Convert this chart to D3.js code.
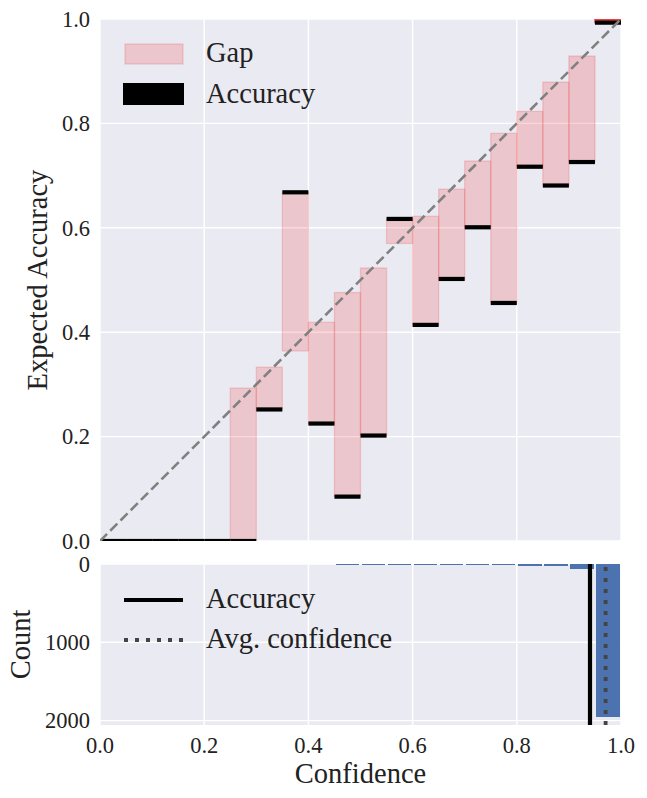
<!DOCTYPE html>
<html lang="en">
<head>
<meta charset="UTF-8">
<title>Reliability diagram</title>
<script src="https://d3js.org/d3.v7.min.js"></script>
<style>
    body, html { margin: 0; padding: 0; background: #fff; overflow: hidden; }
    svg text { font-family: "Liberation Serif", "Times New Roman", Times, "DejaVu Serif", serif; fill: #222; }
    .tick-label { font-size: 22.5px; }
    .axis-label { font-size: 28.5px; }
    .legend-label { font-size: 28.5px; }
</style>
</head>
<body>
<svg id="chart" width="647" height="798"></svg>
<script>
    // bin lower edges (bin width 0.05)
    const binStarts = [0.00, 0.05, 0.10, 0.15, 0.20, 0.25, 0.30, 0.35, 0.40, 0.45,
                       0.50, 0.55, 0.60, 0.65, 0.70, 0.75, 0.80, 0.85, 0.90, 0.95];
    const binWidth = 0.05;
    const accuracy = [0, 0, 0, 0, 0, 0, 0.252, 0.668, 0.225, 0.085,
                      0.202, 0.617, 0.414, 0.502, 0.601, 0.456, 0.717, 0.681, 0.726, 0.993];
    const confidence = [0, 0, 0, 0, 0, 0.293, 0.333, 0.364, 0.419, 0.476,
                        0.523, 0.570, 0.622, 0.674, 0.728, 0.781, 0.823, 0.879, 0.929, 0.9995];
    const counts = [0, 0, 0, 0, 0, 1, 4, 3, 4, 11,
                    10, 12, 12, 11, 13, 11, 20, 22, 62, 1958];
    const avgAccuracy = 0.9405;
    const avgConfidence = 0.9705;
    const xTicks = [0, 0.2, 0.4, 0.6, 0.8, 1.0];
    const accTicks = [0, 0.2, 0.4, 0.6, 0.8, 1.0];
    const countTicks = [0, 1000, 2000];

    const svg = d3.select("#chart");
    const bg = "#EAEAF2";
    const serif = '"Liberation Serif", "Times New Roman", Times, "DejaVu Serif", serif';
    const left = 100, right = 621;

    const x = d3.scaleLinear().domain([0, 1]).range([left, right]);
    const y = d3.scaleLinear().domain([0, 1]).range([541, 19]);
    const yc = d3.scaleLinear().domain([0, d3.max(counts) * 1.05]).range([564, 725]);

    const maxCount = d3.max(counts);
    const bins = binStarts.map((s, i) => ({
        start: s, acc: accuracy[i], conf: confidence[i], count: counts[i],
        alpha: 0.2 + 0.8 * counts[i] / maxCount
    }));

    // ---------- top panel ----------
    svg.append("clipPath").attr("id", "clipTop")
        .append("rect").attr("x", left).attr("y", y(1)).attr("width", right - left).attr("height", y(0) - y(1));

    svg.append("rect").attr("x", left).attr("y", y(1))
        .attr("width", right - left).attr("height", y(0) - y(1)).attr("fill", bg);

    const topPanel = svg.append("g");
    topPanel.selectAll(".vgrid").data(xTicks).enter().append("line")
        .attr("x1", d => x(d)).attr("x2", d => x(d))
        .attr("y1", y(1)).attr("y2", y(0))
        .attr("stroke", "#fff").attr("stroke-width", 1.4);
    topPanel.selectAll(".hgrid").data(accTicks).enter().append("line")
        .attr("x1", left).attr("x2", right)
        .attr("y1", d => y(d)).attr("y2", d => y(d))
        .attr("stroke", "#fff").attr("stroke-width", 1.4);

    const plot = svg.append("g").attr("clip-path", "url(#clipTop)");

    // gap bars
    plot.selectAll(".gap").data(bins).enter().append("rect")
        .attr("x", d => x(d.start))
        .attr("width", d => x(d.start + binWidth) - x(d.start))
        .attr("y", d => y(Math.max(d.acc, d.conf)))
        .attr("height", d => y(Math.min(d.acc, d.conf)) - y(Math.max(d.acc, d.conf)))
        .attr("fill", d => `rgba(240,60,60,${d.alpha})`)
        .attr("stroke", d => `rgba(240,60,60,${d.alpha})`)
        .attr("stroke-width", 1.3);

    // accuracy bars
    plot.selectAll(".acc").data(bins).enter().append("rect")
        .attr("x", d => x(d.start))
        .attr("width", d => x(d.start + binWidth) - x(d.start))
        .attr("y", d => y(d.acc) - 2.1)
        .attr("height", 4.2)
        .attr("fill", "#000");

    // diagonal
    plot.append("line")
        .attr("x1", x(0)).attr("y1", y(0)).attr("x2", x(1)).attr("y2", y(1))
        .attr("stroke", "#808080").attr("stroke-width", 2.6)
        .attr("stroke-dasharray", "10,4.5");

    topPanel.selectAll(".ytick").data(accTicks).enter().append("text")
        .attr("class", "tick-label")
        .attr("x", left - 10).attr("y", d => y(d)).attr("dy", "0.35em")
        .attr("text-anchor", "end")
        .text(d => d3.format(".1f")(d));

    svg.append("text").attr("class", "axis-label")
        .attr("transform", `translate(47,${(y(0) + y(1)) / 2}) rotate(-90)`)
        .attr("text-anchor", "middle")
        .text("Expected Accuracy");

    // top legend
    const leg1 = svg.append("g");
    leg1.append("rect").attr("x", 125).attr("y", 44).attr("width", 58).attr("height", 20)
        .attr("fill", "rgba(240,60,60,0.2)").attr("stroke", "rgba(240,60,60,0.2)").attr("stroke-width", 1.3);
    leg1.append("text").attr("class", "legend-label").attr("x", 206).attr("y", 62).text("Gap");
    leg1.append("rect").attr("x", 123).attr("y", 83).attr("width", 61).attr("height", 22).attr("fill", "#000");
    leg1.append("text").attr("class", "legend-label").attr("x", 206).attr("y", 103).text("Accuracy");

    // ---------- bottom panel ----------
    svg.append("rect").attr("x", left).attr("y", yc.range()[0])
        .attr("width", right - left).attr("height", yc.range()[1] - yc.range()[0]).attr("fill", bg);

    const bot = svg.append("g");
    bot.selectAll(".vgrid").data(xTicks).enter().append("line")
        .attr("x1", d => x(d)).attr("x2", d => x(d))
        .attr("y1", yc.range()[0]).attr("y2", yc.range()[1])
        .attr("stroke", "#fff").attr("stroke-width", 1.4);
    bot.selectAll(".hgrid").data(countTicks).enter().append("line")
        .attr("x1", left).attr("x2", right)
        .attr("y1", d => yc(d)).attr("y2", d => yc(d))
        .attr("stroke", "#fff").attr("stroke-width", 1.4);

    bot.selectAll(".hist").data(bins).enter().append("rect")
        .attr("x", d => x(d.start + binWidth * 0.05))
        .attr("width", d => x(d.start + binWidth * 0.95) - x(d.start + binWidth * 0.05))
        .attr("y", yc(0))
        .attr("height", d => yc(d.count) - yc(0))
        .attr("fill", "#4C72B0")
        .attr("shape-rendering", "crispEdges");

    bot.append("line")
        .attr("x1", x(avgAccuracy)).attr("x2", x(avgAccuracy))
        .attr("y1", yc.range()[0]).attr("y2", yc.range()[1])
        .attr("stroke", "#000").attr("stroke-width", 4.2);
    bot.append("line")
        .attr("x1", x(avgConfidence)).attr("x2", x(avgConfidence))
        .attr("y1", yc.range()[0] + 3).attr("y2", yc.range()[1])
        .attr("stroke", "#444").attr("stroke-width", 3.8)
        .attr("stroke-dasharray", "4,7");

    bot.selectAll(".ctick").data(countTicks).enter().append("text")
        .attr("class", "tick-label")
        .attr("x", left - 10).attr("y", d => yc(d)).attr("dy", "0.35em")
        .attr("text-anchor", "end")
        .text(d => d);

    bot.selectAll(".xtick").data(xTicks).enter().append("text")
        .attr("class", "tick-label")
        .attr("x", d => x(d)).attr("y", 753)
        .attr("text-anchor", "middle")
        .text(d => d3.format(".1f")(d));

    svg.append("text").attr("class", "axis-label")
        .attr("x", (left + right) / 2).attr("y", 783)
        .attr("text-anchor", "middle")
        .text("Confidence");

    svg.append("text").attr("class", "axis-label")
        .attr("transform", `translate(30,${(yc.range()[0] + yc.range()[1]) / 2}) rotate(-90)`)
        .attr("text-anchor", "middle")
        .text("Count");

    // bottom legend
    const leg2 = svg.append("g");
    leg2.append("line").attr("x1", 124).attr("x2", 183).attr("y1", 600).attr("y2", 600)
        .attr("stroke", "#000").attr("stroke-width", 4.2);
    leg2.append("text").attr("class", "legend-label").attr("x", 206).attr("y", 608).text("Accuracy");
    leg2.append("line").attr("x1", 124).attr("x2", 183).attr("y1", 640).attr("y2", 640)
        .attr("stroke", "#444").attr("stroke-width", 3.8).attr("stroke-dasharray", "4,7");
    leg2.append("text").attr("class", "legend-label").attr("x", 206).attr("y", 648).text("Avg. confidence");

    svg.selectAll("text").attr("font-family", serif);
</script>
</body>
</html>
